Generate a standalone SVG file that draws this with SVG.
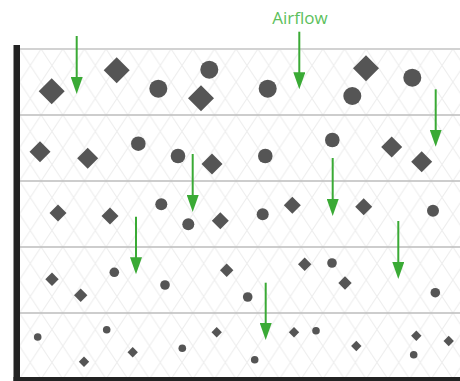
<svg xmlns="http://www.w3.org/2000/svg" xmlns:xlink="http://www.w3.org/1999/xlink" width="460" height="381" viewBox="0 0 460 381">
<style>
.p{fill:#555}
.rule{stroke:#bdbdbd;stroke-width:1.5}
.flow{stroke:#3aaa35;stroke-width:2;fill:none}
.lbl{font-family:"Open Sans","Liberation Sans",sans-serif;font-size:17px;fill:#5cbf5c}
</style>
<defs>
<pattern id="hatch" patternUnits="userSpaceOnUse" x="19.47" y="49" width="21.67" height="33">
<path d="M0,0 L21.67,33 M21.67,0 L0,33" stroke="#eeeeee" stroke-width="1.1" fill="none"/>
</pattern>
<marker id="ah" markerUnits="userSpaceOnUse" markerWidth="18" markerHeight="12" refX="5" refY="6" orient="auto">
<path d="M0,0 L17,6 L0,12 Z" fill="#3aaa35"/>
</marker>
<path id="d13" d="M0,-13 L13,0 L0,13 L-13,0Z"/>
<path id="d10" d="M0,-10.5 L10.5,0 L0,10.5 L-10.5,0Z"/>
<path id="d8" d="M0,-8.5 L8.5,0 L0,8.5 L-8.5,0Z"/>
<path id="d7" d="M0,-6.7 L6.7,0 L0,6.7 L-6.7,0Z"/>
<path id="d5" d="M0,-5.2 L5.2,0 L0,5.2 L-5.2,0Z"/>
</defs>
<rect x="0" y="0" width="460" height="381" fill="#fff"/>
<rect x="20" y="49" width="440" height="328" fill="url(#hatch)"/>
<g id="rules">
<line x1="20" y1="49" x2="460" y2="49" stroke="#d2d2d2" stroke-width="2"/>
<line class="rule" x1="20" y1="115" x2="460" y2="115"/>
<line class="rule" x1="20" y1="181" x2="460" y2="181"/>
<line class="rule" x1="20" y1="247" x2="460" y2="247"/>
<line class="rule" x1="20" y1="313" x2="460" y2="313"/>
</g>
<g id="frame" fill="#222">
<rect x="13.5" y="45" width="6.5" height="336"/>
<rect x="13.5" y="377" width="446.5" height="4"/>
</g>
<g id="row1" class="p">
<use xlink:href="#d13" x="51.7" y="91.3"/>
<use xlink:href="#d13" x="116.7" y="70.3"/>
<circle cx="158.3" cy="88.7" r="9"/>
<circle cx="209.3" cy="69.7" r="9"/>
<use xlink:href="#d13" x="201" y="98.3"/>
<circle cx="267.7" cy="88.7" r="9"/>
<use xlink:href="#d13" x="366" y="68.3"/>
<circle cx="352.3" cy="96" r="9"/>
<circle cx="412.3" cy="77.7" r="9"/>
</g>
<g id="row2" class="p">
<use xlink:href="#d10" x="40" y="151.7"/>
<use xlink:href="#d10" x="87.7" y="158.3"/>
<circle cx="138.3" cy="143.7" r="7.3"/>
<circle cx="178" cy="156" r="7.3"/>
<use xlink:href="#d10" x="212" y="164"/>
<circle cx="265.3" cy="156" r="7.3"/>
<circle cx="332.3" cy="140" r="7.3"/>
<use xlink:href="#d10" x="391.7" y="147"/>
<use xlink:href="#d10" x="421.7" y="161.7"/>
</g>
<g id="row3" class="p">
<use xlink:href="#d8" x="58" y="213"/>
<use xlink:href="#d8" x="110" y="216"/>
<circle cx="161.3" cy="204.3" r="6"/>
<circle cx="188.3" cy="224.3" r="6"/>
<use xlink:href="#d8" x="220.3" y="220.7"/>
<circle cx="262.7" cy="214.3" r="6"/>
<use xlink:href="#d8" x="292.3" y="205.3"/>
<use xlink:href="#d8" x="363.7" y="206.7"/>
<circle cx="433" cy="210.7" r="6"/>
</g>
<g id="row4" class="p">
<use xlink:href="#d7" x="52" y="279.3"/>
<use xlink:href="#d7" x="80.7" y="295.3"/>
<circle cx="114.3" cy="272.3" r="4.8"/>
<circle cx="165" cy="285" r="4.8"/>
<use xlink:href="#d7" x="226.7" y="270.3"/>
<circle cx="247.7" cy="297" r="4.8"/>
<use xlink:href="#d7" x="304.7" y="264.3"/>
<circle cx="332" cy="263" r="4.8"/>
<use xlink:href="#d7" x="345" y="283"/>
<circle cx="435.3" cy="292.7" r="4.8"/>
</g>
<g id="row5" class="p">
<circle cx="37.7" cy="337" r="3.8"/>
<use xlink:href="#d5" x="84" y="361.7"/>
<circle cx="106.7" cy="329.7" r="3.8"/>
<use xlink:href="#d5" x="132.7" y="352.3"/>
<circle cx="182.3" cy="348.3" r="3.8"/>
<use xlink:href="#d5" x="216.7" y="332.3"/>
<circle cx="254.7" cy="359.7" r="3.8"/>
<use xlink:href="#d5" x="294" y="332.3"/>
<circle cx="316" cy="330.7" r="3.8"/>
<use xlink:href="#d5" x="356.3" y="346"/>
<use xlink:href="#d5" x="416.3" y="335.7"/>
<circle cx="413.7" cy="354.7" r="3.8"/>
<use xlink:href="#d5" x="448.7" y="341"/>
</g>
<g id="label">
<text class="lbl" x="300" y="24" text-anchor="middle">Airflow</text>
</g>
<g id="connectors" class="flow" marker-end="url(#ah)">
<line x1="76.7" y1="36" x2="76.7" y2="82"/>
<line x1="299.3" y1="31.7" x2="299.3" y2="77.3"/>
<line x1="435.7" y1="89.3" x2="435.7" y2="134.7"/>
<line x1="192.7" y1="154" x2="192.7" y2="200"/>
<line x1="332.7" y1="158" x2="332.7" y2="204"/>
<line x1="136" y1="216.7" x2="136" y2="262.3"/>
<line x1="398.3" y1="221" x2="398.3" y2="267"/>
<line x1="265.7" y1="282.7" x2="265.7" y2="328"/>
</g>
</svg>
